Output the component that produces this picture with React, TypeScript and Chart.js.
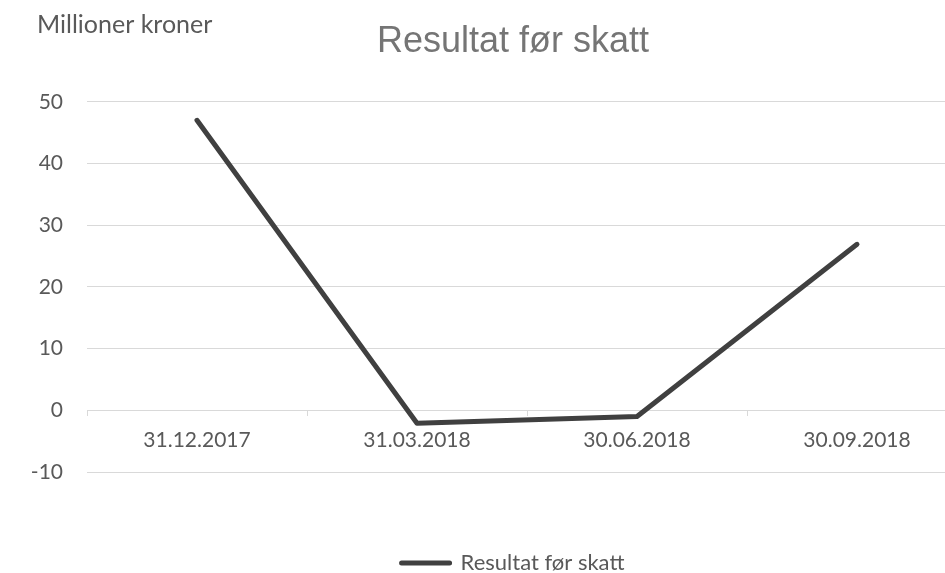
import React, { useEffect, useRef } from "react";
import { Chart, registerables } from "chart.js";

Chart.register(...registerables);

const categories = ["31.12.2017", "31.03.2018", "30.06.2018", "30.09.2018"];
const resultatValues = [47, -2.1, -1.0, 26.9];
const seriesName = "Resultat før skatt";
const chartTitle = "Resultat før skatt";
const unitLabel = "Millioner kroner";
const yMin = -10;
const yMax = 50;
const yStep = 10;

const W = 1026;
const H = 584;
const LINE_COLOR = "#404040";
const TEXT_COLOR = "#595959";
const GRID_COLOR = "#d9d9d9";
const TICK_FONT = { family: "Lato, 'Open Sans', sans-serif", size: 21 };
const LEGEND_FONT = { family: "Lato, 'Open Sans', sans-serif", size: 22 };

export default function App() {
  const ref = useRef<HTMLCanvasElement>(null);

  useEffect(() => {
    if (!ref.current) return;
    const unitPlugin = {
      id: "unitLabel",
      afterDraw(chart: any) {
        const ctx = chart.ctx;
        ctx.save();
        ctx.font = "25px Lato, 'Open Sans', sans-serif";
        ctx.fillStyle = TEXT_COLOR;
        ctx.textAlign = "left";
        ctx.textBaseline = "middle";
        ctx.fillText(unitLabel, 37, 25);
        ctx.restore();
      },
    };

    const chart = new Chart(ref.current, {
      type: "line",
      data: {
        labels: categories,
        datasets: [
          {
            label: seriesName,
            data: resultatValues,
            borderColor: LINE_COLOR,
            backgroundColor: LINE_COLOR,
            borderWidth: 5,
            borderCapStyle: "round",
            borderJoinStyle: "round",
            pointRadius: 0,
            pointHoverRadius: 0,
            tension: 0,
            fill: false,
          },
        ],
      },
      options: {
        responsive: false,
        maintainAspectRatio: false,
        animation: false,
        layout: { padding: 0 },
        plugins: {
          title: {
            display: true,
            text: chartTitle,
            color: "#757575",
            font: { family: "'Liberation Sans', Arial, sans-serif", size: 36, weight: "normal" },
            padding: { top: 20.4, bottom: 38.2 },
          },
          legend: {
            position: "bottom",
            labels: {
              usePointStyle: true,
              pointStyle: "line",
              pointStyleWidth: 48,
              color: TEXT_COLOR,
              font: LEGEND_FONT,
              padding: 80,
              generateLabels: (c: any) =>
                Chart.defaults.plugins.legend.labels.generateLabels(c).map((l: any) => ({
                  ...l,
                  lineWidth: 5,
                  strokeStyle: LINE_COLOR,
                  fillStyle: LINE_COLOR,
                  lineCap: "round",
                  pointStyle: "line",
                })),
            },
          },
          tooltip: { enabled: false },
        },
        scales: {
          x: {
            type: "category",
            position: { y: 0 },
            offset: true,
            grid: {
              offset: true,
              drawOnChartArea: false,
              drawTicks: true,
              tickLength: 5,
              color: GRID_COLOR,
            },
            border: { display: true, color: GRID_COLOR, width: 1 },
            ticks: {
              color: TEXT_COLOR,
              font: TICK_FONT,
              padding: 12,
              maxRotation: 0,
              autoSkip: false,
            },
          },
          y: {
            type: "linear",
            position: "left",
            min: yMin,
            max: yMax,
            ticks: { stepSize: yStep, color: TEXT_COLOR, font: TICK_FONT, padding: 24 },
            grid: { color: GRID_COLOR, drawTicks: false },
            border: { display: false },
            afterFit: (s: any) => {
              s.width = 87;
            },
          },
          yRight: {
            type: "linear",
            position: "right",
            display: true,
            grid: { display: false },
            ticks: { display: false },
            border: { display: false },
            afterFit: (s: any) => {
              s.width = 59;
            },
          },
        },
      } as any,
      plugins: [unitPlugin],
    });
    return () => chart.destroy();
  }, []);

  return (
    <div
      style={{
        position: "fixed",
        left: 0,
        top: 0,
        width: 945,
        height: 573,
        overflow: "hidden",
        background: "#ffffff",
      }}
    >
      <canvas ref={ref} width={W} height={H} style={{ width: W, height: H, display: "block" }} />
    </div>
  );
}
